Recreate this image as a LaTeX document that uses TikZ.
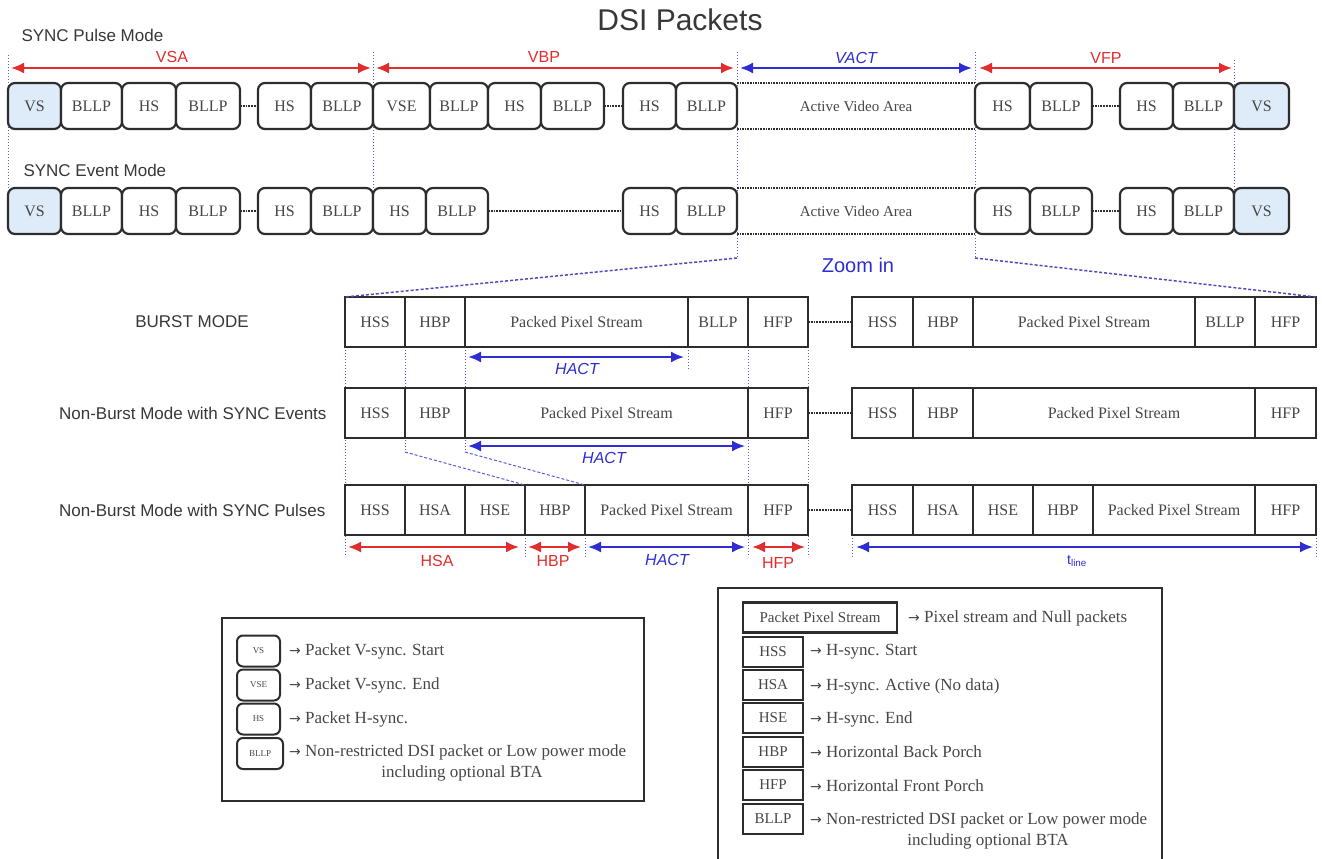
\documentclass[tikz,border=0pt]{standalone}
\usepackage{fontspec}
\setmainfont{Liberation Serif}
\newfontfamily\sansf{Liberation Sans}
\newfontfamily\arrf{DejaVu Sans}
\newcommand\myarr{{\arrf\fontsize{14}{16}\selectfont →}}
\usetikzlibrary{arrows.meta,backgrounds}
\definecolor{arred}{RGB}{225,45,45}
\definecolor{arblue}{RGB}{45,45,210}
\definecolor{guideblue}{RGB}{90,90,225}
\definecolor{vsfill}{RGB}{222,236,250}
\definecolor{boxline}{RGB}{45,45,45}
\definecolor{boxtext}{RGB}{70,70,70}
\definecolor{labtext}{RGB}{55,55,55}
\newcommand\bx[6]{\pgfmathsetmacro\mybw{#4-#3}\node[#1, minimum width=\mybw pt, anchor=west] (#2) at (#3,#5) {#6};}
\begin{document}
\begin{tikzpicture}[x=1pt,y=-1pt,
  rb/.style={draw=boxline, line width=2.2pt, rounded corners=7pt, fill=white, minimum height=46pt, inner sep=0pt, outer sep=0pt, text=boxtext, font=\fontsize{16}{18}\selectfont},
  vsb/.style={rb, fill=vsfill},
  sb/.style={draw=boxline, line width=2pt, fill=white, minimum height=50pt, inner sep=0pt, outer sep=0pt, text=boxtext, font=\fontsize{16}{18}\selectfont},
  avabox/.style={inner sep=0pt, outer sep=0pt, minimum height=46pt, text=boxtext, font=\fontsize{15}{18}\selectfont},
  avaline/.style={densely dotted, line width=1.6pt, boxline},
  dotlink/.style={densely dotted, line width=1.8pt, boxline},
  guide/.style={dotted, line width=1pt, guideblue},
  guidedash/.style={densely dashed, line width=1pt, guideblue},
  zoomline/.style={densely dashed, line width=1.5pt, guideblue!85!black},
  redarr/.style={{Latex[length=13pt,width=11pt]}-{Latex[length=13pt,width=11pt]}, line width=2pt, arred},
  bluearr/.style={{Latex[length=13pt,width=11pt]}-{Latex[length=13pt,width=11pt]}, line width=2pt, arblue},
  redlab/.style={text=arred, font=\sansf\fontsize{16}{19}\selectfont},
  bluelab/.style={text=arblue, font=\sansf\fontsize{16}{19}\selectfont},
  bluelabit/.style={text=arblue, font=\sansf\itshape\fontsize{16}{19}\selectfont},
  modelab/.style={text=labtext, font=\sansf\fontsize{17}{20}\selectfont},
  lrb/.style={draw=boxline, line width=2pt, rounded corners=6pt, fill=white, minimum height=31pt, inner sep=0pt, outer sep=0pt, text=boxtext, font=\fontsize{9}{11}\selectfont},
  lsq/.style={draw=boxline, line width=2.4pt, fill=white, minimum height=30pt, inner sep=0pt, outer sep=0pt, text=boxtext, font=\fontsize{15}{18}\selectfont},
  legtxt/.style={anchor=west, inner sep=0pt, text=boxtext, font=\fontsize{17}{20}\selectfont},
  frame/.style={draw=boxline, line width=1.6pt}
]
\useasboundingbox (0,0) rectangle (1322,859);
\clip (0,0) rectangle (1322,859);

% title and mode labels
\node[text=labtext, font=\sansf\fontsize{30}{34}\selectfont] (title) at (680,20) {DSI Packets};
\node[modelab, anchor=west] (pulselab) at (18,35) {SYNC Pulse Mode};
\node[modelab, anchor=west] (eventlab) at (20,170) {SYNC Event Mode};

% Row 1: SYNC Pulse Mode
\bx{vsb}{p1}{8}{61}{106}{VS}
\bx{rb}{p2}{61}{122}{106}{BLLP}
\bx{rb}{p3}{122}{176}{106}{HS}
\bx{rb}{p4}{176}{240}{106}{BLLP}
\bx{rb}{p5}{258}{311}{106}{HS}
\bx{rb}{p6}{311}{373}{106}{BLLP}
\bx{rb}{p7}{373}{430}{106}{VSE}
\bx{rb}{p8}{430}{488}{106}{BLLP}
\bx{rb}{p9}{488}{541}{106}{HS}
\bx{rb}{p10}{541}{604}{106}{BLLP}
\bx{rb}{p11}{623}{676}{106}{HS}
\bx{rb}{p12}{676}{737}{106}{BLLP}
\bx{avabox}{p13}{737}{975}{106}{Active Video Area}
\bx{rb}{p14}{975}{1030}{106}{HS}
\bx{rb}{p15}{1030}{1092}{106}{BLLP}
\bx{rb}{p16}{1120}{1173}{106}{HS}
\bx{rb}{p17}{1173}{1234}{106}{BLLP}
\bx{vsb}{p18}{1234}{1289}{106}{VS}
\draw[dotlink] (p4.east) -- (p5.west);
\draw[dotlink] (p10.east) -- (p11.west);
\draw[dotlink] (p15.east) -- (p16.west);
\draw[avaline] (p13.north west) -- (p13.north east);
\draw[avaline] (p13.south west) -- (p13.south east);

% Row 2: SYNC Event Mode
\bx{vsb}{e1}{8}{61}{211}{VS}
\bx{rb}{e2}{61}{122}{211}{BLLP}
\bx{rb}{e3}{122}{176}{211}{HS}
\bx{rb}{e4}{176}{240}{211}{BLLP}
\bx{rb}{e5}{258}{311}{211}{HS}
\bx{rb}{e6}{311}{373}{211}{BLLP}
\bx{rb}{e7}{373}{426}{211}{HS}
\bx{rb}{e8}{426}{488}{211}{BLLP}
\bx{rb}{e9}{623}{676}{211}{HS}
\bx{rb}{e10}{676}{737}{211}{BLLP}
\bx{avabox}{e11}{737}{975}{211}{Active Video Area}
\bx{rb}{e12}{975}{1030}{211}{HS}
\bx{rb}{e13}{1030}{1092}{211}{BLLP}
\bx{rb}{e14}{1120}{1173}{211}{HS}
\bx{rb}{e15}{1173}{1234}{211}{BLLP}
\bx{vsb}{e16}{1234}{1289}{211}{VS}
\draw[dotlink] (e4.east) -- (e5.west);
\draw[dotlink] (e8.east) -- (e9.west);
\draw[dotlink] (e13.east) -- (e14.west);
\draw[avaline] (e11.north west) -- (e11.north east);
\draw[avaline] (e11.south west) -- (e11.south east);

% top arrows
\coordinate (vsaL) at (11,68);   \coordinate (vsaR) at (371,68);
\coordinate (vbpL) at (376,68);  \coordinate (vbpR) at (734,68);
\coordinate (vacL) at (740,68);  \coordinate (vacR) at (972,68);
\coordinate (vfpL) at (979,68);  \coordinate (vfpR) at (1232,68);
\draw[redarr] (vsaL) -- (vsaR);
\draw[redarr] (vbpL) -- (vbpR);
\draw[bluearr] (vacL) -- (vacR);
\draw[redarr] (vfpL) -- (vfpR);
\node[redlab] (vsalab) at (172,57) {VSA};
\node[redlab] (vbplab) at (544,57) {VBP};
\node[bluelabit] (vaclab) at (856,58) {VACT};
\node[redlab] (vfplab) at (1106,58) {VFP};

\node[text=arblue, font=\sansf\fontsize{20}{24}\selectfont] (zoomlab) at (858,265) {Zoom in};

% lower mode labels
\node[modelab] (burstlab) at (192,322) {BURST MODE};
\node[modelab, anchor=east] (nbelab) at (330,413) {Non-Burst Mode with SYNC Events};
\node[modelab, anchor=east] (nbplab) at (329,510) {Non-Burst Mode with SYNC Pulses};

% Row A: burst
\bx{sb}{a1}{345}{405}{322}{HSS}
\bx{sb}{a2}{405}{465}{322}{HBP}
\bx{sb}{a3}{465}{688}{322}{Packed Pixel Stream}
\bx{sb}{a4}{688}{748}{322}{BLLP}
\bx{sb}{a5}{748}{808}{322}{HFP}
\bx{sb}{a6}{852}{913}{322}{HSS}
\bx{sb}{a7}{913}{973}{322}{HBP}
\bx{sb}{a8}{973}{1195}{322}{Packed Pixel Stream}
\bx{sb}{a9}{1195}{1255}{322}{BLLP}
\bx{sb}{a10}{1255}{1316}{322}{HFP}
\draw[dotlink] (a5.east) -- (a6.west);

% Row B: non-burst sync events
\bx{sb}{b1}{345}{405}{413}{HSS}
\bx{sb}{b2}{405}{465}{413}{HBP}
\bx{sb}{b3}{465}{748}{413}{Packed Pixel Stream}
\bx{sb}{b4}{748}{808}{413}{HFP}
\bx{sb}{b5}{852}{913}{413}{HSS}
\bx{sb}{b6}{913}{973}{413}{HBP}
\bx{sb}{b7}{973}{1255}{413}{Packed Pixel Stream}
\bx{sb}{b8}{1255}{1316}{413}{HFP}
\draw[dotlink] (b4.east) -- (b5.west);

% Row C: non-burst sync pulses
\bx{sb}{c1}{345}{405}{510}{HSS}
\bx{sb}{c2}{405}{465}{510}{HSA}
\bx{sb}{c3}{465}{525}{510}{HSE}
\bx{sb}{c4}{525}{585}{510}{HBP}
\bx{sb}{c5}{585}{748}{510}{Packed Pixel Stream}
\bx{sb}{c6}{748}{808}{510}{HFP}
\bx{sb}{c7}{852}{913}{510}{HSS}
\bx{sb}{c8}{913}{973}{510}{HSA}
\bx{sb}{c9}{973}{1033}{510}{HSE}
\bx{sb}{c10}{1033}{1093}{510}{HBP}
\bx{sb}{c11}{1093}{1255}{510}{Packed Pixel Stream}
\bx{sb}{c12}{1255}{1316}{510}{HFP}
\draw[dotlink] (c6.east) -- (c7.west);

% guides and zoom lines (behind)
\coordinate (zl) at (737,258);
\coordinate (zr) at (975,258);
\coordinate (d1) at (405,452);
\coordinate (d2) at (465,452);
\begin{pgfonlayer}{background}
\draw[guide] (8,55) -- (8,190);
\draw[guide] (373,52) -- (373,190);
\draw[guide] (737,52) -- (zl);
\draw[guide] (975,52) -- (zr);
\draw[guide] (1234,60) -- (1234,190);
\draw[guide] (345,347) -- (345,557);
\draw[guide] (405,347) -- (d1);
\draw[guide] (465,347) -- (d2);
\draw[guide] (688,347) -- (688,371);
\draw[guide] (748,347) -- (748,557);
\draw[guide] (808,347) -- (808,557);
\draw[guide] (525,535) -- (525,557);
\draw[guide] (585,535) -- (585,557);
\draw[guide] (852,535) -- (852,557);
\draw[guide] (1316,535) -- (1316,557);
\end{pgfonlayer}
\draw[zoomline] (zl) -- (a1.north west);
\draw[zoomline] (zr) -- (a10.north east);
\draw[guidedash] (d1) -- (c4.north west);
\draw[guidedash] (d2) -- (c5.north west);

% HACT arrows
\draw[bluearr] (468,357) -- (684,357);
\node[bluelabit] (hact1) at (577,369) {HACT};
\draw[bluearr] (468,446) -- (745,446);
\node[bluelabit] (hact2) at (604,458) {HACT};

% bottom arrows
\draw[redarr] (348,547) -- (519,547);
\node[redlab] (hsalab) at (437,561) {HSA};
\draw[redarr] (528,547) -- (581,547);
\node[redlab] (hbplab) at (553,561) {HBP};
\draw[bluearr] (588,547) -- (745,547);
\node[bluelabit] (hact3) at (667,560) {HACT};
\draw[redarr] (752,547) -- (805,547);
\node[redlab] (hfplab) at (778,563) {HFP};
\draw[bluearr] (856,547) -- (1313,547);
\node[text=arblue, font=\sansf\fontsize{14}{16}\selectfont] (tline) at (1077,561) {t\textsubscript{line}};

% Legend 1
\draw[frame] (222,618) rectangle (644,801);
\bx{lrb}{l1}{237}{280}{651}{VS}
\bx{lrb}{l2}{237}{280}{685}{VSE}
\bx{lrb}{l3}{237}{280}{719}{HS}
\bx{lrb}{l4}{237}{283}{753.5}{BLLP}
\node[legtxt] (t1) at (289,651) {\myarr\ Packet V-sync. Start};
\node[legtxt] (t2) at (289,685) {\myarr\ Packet V-sync. End};
\node[legtxt] (t3) at (289,719) {\myarr\ Packet H-sync.};
\node[legtxt] (t4) at (289,752) {\myarr\ Non-restricted DSI packet or Low power mode};
\node[text=boxtext, font=\fontsize{17}{20}\selectfont] (t4b) at (462,773) {including optional BTA};

% Legend 2
\draw[frame] (718,880) -- (718,588) -- (1162,588) -- (1162,880);
\bx{lsq}{m1}{743}{897}{617.5}{Packet Pixel Stream}
\bx{lsq}{m2}{743}{803}{652}{HSS}
\bx{lsq}{m3}{743}{803}{685}{HSA}
\bx{lsq}{m4}{743}{803}{718}{HSE}
\bx{lsq}{m5}{743}{803}{752}{HBP}
\bx{lsq}{m6}{743}{803}{785}{HFP}
\bx{lsq}{m7}{743}{803}{819}{BLLP}
\node[legtxt] (u1) at (908,618) {\myarr\ Pixel stream and Null packets};
\node[legtxt] (u2) at (810,652) {\myarr\ H-sync. Start};
\node[legtxt] (u3) at (810,686) {\myarr\ H-sync. Active (No data)};
\node[legtxt] (u4) at (810,719) {\myarr\ H-sync. End};
\node[legtxt] (u5) at (810,752) {\myarr\ Horizontal Back Porch};
\node[legtxt] (u6) at (810,786) {\myarr\ Horizontal Front Porch};
\node[legtxt] (u7) at (810,820) {\myarr\ Non-restricted DSI packet or Low power mode};
\node[text=boxtext, font=\fontsize{17}{20}\selectfont] (u7b) at (988,841) {including optional BTA};
\end{tikzpicture}
\end{document}
